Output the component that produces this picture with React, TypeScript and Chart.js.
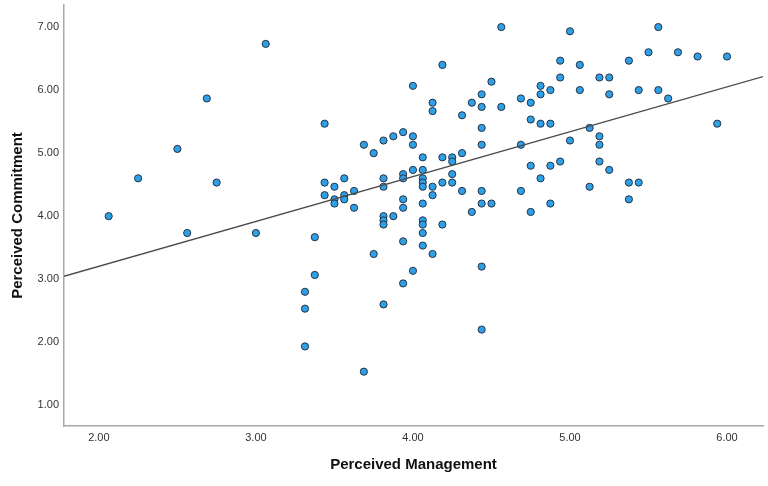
import React, { useEffect, useRef } from "react";
import { Chart, registerables } from "chart.js";

Chart.register(...registerables);

// Perceived Management (x) and Perceived Commitment (y), one entry per respondent
const managementScores = [
  2.0625, 2.25, 2.5, 2.5625, 2.6875, 2.75, 3.0, 3.0625,
  3.3125, 3.3125, 3.3125,
  3.375, 3.375,
  3.4375, 3.4375, 3.4375,
  3.5, 3.5, 3.5,
  3.5625, 3.5625, 3.5625,
  3.625, 3.625,
  3.6875, 3.6875,
  3.75, 3.75,
  3.8125, 3.8125, 3.8125, 3.8125, 3.8125, 3.8125, 3.8125,
  3.875, 3.875,
  3.9375, 3.9375, 3.9375, 3.9375, 3.9375, 3.9375, 3.9375,
  4.0, 4.0, 4.0, 4.0, 4.0,
  4.0625, 4.0625, 4.0625, 4.0625, 4.0625, 4.0625, 4.0625, 4.0625, 4.0625, 4.0625,
  4.125, 4.125, 4.125, 4.125, 4.125,
  4.1875, 4.1875, 4.1875, 4.1875,
  4.25, 4.25, 4.25, 4.25,
  4.3125, 4.3125, 4.3125,
  4.375, 4.375,
  4.4375, 4.4375, 4.4375, 4.4375, 4.4375, 4.4375, 4.4375, 4.4375,
  4.5, 4.5,
  4.5625, 4.5625,
  4.6875, 4.6875, 4.6875,
  4.75, 4.75, 4.75, 4.75,
  4.8125, 4.8125, 4.8125, 4.8125,
  4.875, 4.875, 4.875, 4.875,
  4.9375, 4.9375, 4.9375,
  5.0, 5.0,
  5.0625, 5.0625,
  5.125, 5.125,
  5.1875, 5.1875, 5.1875, 5.1875,
  5.25, 5.25, 5.25,
  5.375, 5.375, 5.375,
  5.4375, 5.4375,
  5.5,
  5.5625, 5.5625,
  5.625,
  5.6875,
  5.8125,
  5.9375,
  6.0,
];

const commitmentScores = [
  4.0, 4.6, 5.067, 3.733, 5.867, 4.533, 3.733, 6.733,
  2.8, 2.533, 1.933,
  3.667, 3.067,
  5.467, 4.533, 4.333,
  4.467, 4.267, 4.2,
  4.6, 4.333, 4.267,
  4.4, 4.133,
  5.133, 1.533,
  5.0, 3.4,
  5.2, 4.6, 4.467, 4.0, 3.933, 3.867, 2.6,
  5.267, 4.0,
  5.333, 4.667, 4.6, 4.267, 4.133, 3.6, 2.933,
  6.067, 5.267, 5.133, 4.733, 3.133,
  4.933, 4.733, 4.6, 4.533, 4.467, 4.2, 3.933, 3.867, 3.733, 3.533,
  5.8, 5.667, 4.467, 4.333, 3.4,
  6.4, 4.933, 4.533, 3.867,
  4.933, 4.867, 4.667, 4.533,
  5.6, 5.0, 4.4,
  5.8, 4.067,
  5.933, 5.733, 5.4, 5.133, 4.4, 4.2, 3.2, 2.2,
  6.133, 4.2,
  7.0, 5.733,
  5.867, 5.133, 4.4,
  5.8, 5.533, 4.8, 4.067,
  6.067, 5.933, 5.467, 4.6,
  6.0, 5.467, 4.8, 4.2,
  6.467, 6.2, 4.867,
  6.933, 5.2,
  6.4, 6.0,
  5.4, 4.467,
  6.2, 5.267, 5.133, 4.867,
  6.2, 5.933, 4.733,
  6.467, 4.533, 4.267,
  6.0, 4.533,
  6.6,
  7.0, 6.0,
  5.867,
  6.6,
  6.533,
  5.467,
  6.533,
];

const xTickValues = [2, 3, 4, 5, 6];
const yTickValues = [1, 2, 3, 4, 5, 6, 7];
const xAxisRange = [1.778, 6.229];
const yAxisRange = [0.671, 7.35];

// Fit line
const fitIntercept = 1.78;
const fitSlope = 0.712;

const xTitle = "Perceived Management";
const yTitle = "Perceived Commitment";

const FONT = "'Liberation Sans', Arial, Helvetica, sans-serif";

export default function App() {
  const canvasRef = useRef<HTMLCanvasElement | null>(null);

  useEffect(() => {
    if (!canvasRef.current) return;
    const points = managementScores.map((x, i) => ({ x, y: commitmentScores[i] }));
    const fitPoints = xAxisRange.map((x) => ({ x, y: fitIntercept + fitSlope * x }));

    const chart = new Chart(canvasRef.current, {
      type: "scatter",
      data: {
        datasets: [
          {
            type: "line",
            data: fitPoints,
            borderColor: "#4d4d4d",
            borderWidth: 1.3,
            pointRadius: 0,
            fill: false,
            order: 0,
          } as any,
          {
            type: "scatter",
            data: points,
            backgroundColor: "#2f9fe6",
            borderColor: "#243447",
            borderWidth: 1,
            pointRadius: 3.6,
            order: 1,
          },
        ],
      },
      options: {
        responsive: false,
        animation: false,
        plugins: { legend: { display: false }, tooltip: { enabled: false } },
        layout: { padding: { left: 0, right: 3, top: 4, bottom: 0 } },
        scales: {
          x: {
            type: "linear",
            min: xAxisRange[0],
            max: xAxisRange[1],
            grid: { display: false, drawTicks: false },
            border: { display: true, color: "#a8a8a8", width: 1.5 },
            afterBuildTicks: (axis: any) => {
              axis.ticks = xTickValues.map((v) => ({ value: v }));
            },
            afterFit: (scale: any) => {
              scale.height = 60;
              scale.paddingLeft = 0;
              scale.paddingRight = 0;
            },
            ticks: {
              padding: 5,
              color: "#333",
              font: { family: FONT, size: 11 },
              callback: (v: any) => Number(v).toFixed(2),
            },
            title: {
              display: true,
              text: xTitle,
              color: "#111",
              font: { family: FONT, size: 15, weight: "bold" },
              padding: { top: 0, bottom: 12 },
            },
          },
          y: {
            type: "linear",
            min: yAxisRange[0],
            max: yAxisRange[1],
            grid: { display: false, drawTicks: false },
            border: { display: true, color: "#a8a8a8", width: 1.5 },
            afterBuildTicks: (axis: any) => {
              axis.ticks = yTickValues.map((v) => ({ value: v }));
            },
            afterFit: (scale: any) => {
              scale.width = 64;
              scale.paddingTop = 0;
              scale.paddingBottom = 0;
            },
            ticks: {
              padding: 5,
              color: "#333",
              font: { family: FONT, size: 11 },
              callback: (v: any) => Number(v).toFixed(2),
            },
            title: {
              display: true,
              text: yTitle,
              color: "#111",
              font: { family: FONT, size: 15, weight: "bold" },
              padding: { top: 9, bottom: 0 },
            },
          },
        },
      },
    });
    return () => chart.destroy();
  }, []);

  return (
    <div style={{ position: "fixed", left: 0, top: 0, width: 768, height: 486, background: "#fff" }}>
      <canvas ref={canvasRef} width={768} height={486} style={{ display: "block" }} />
    </div>
  );
}
